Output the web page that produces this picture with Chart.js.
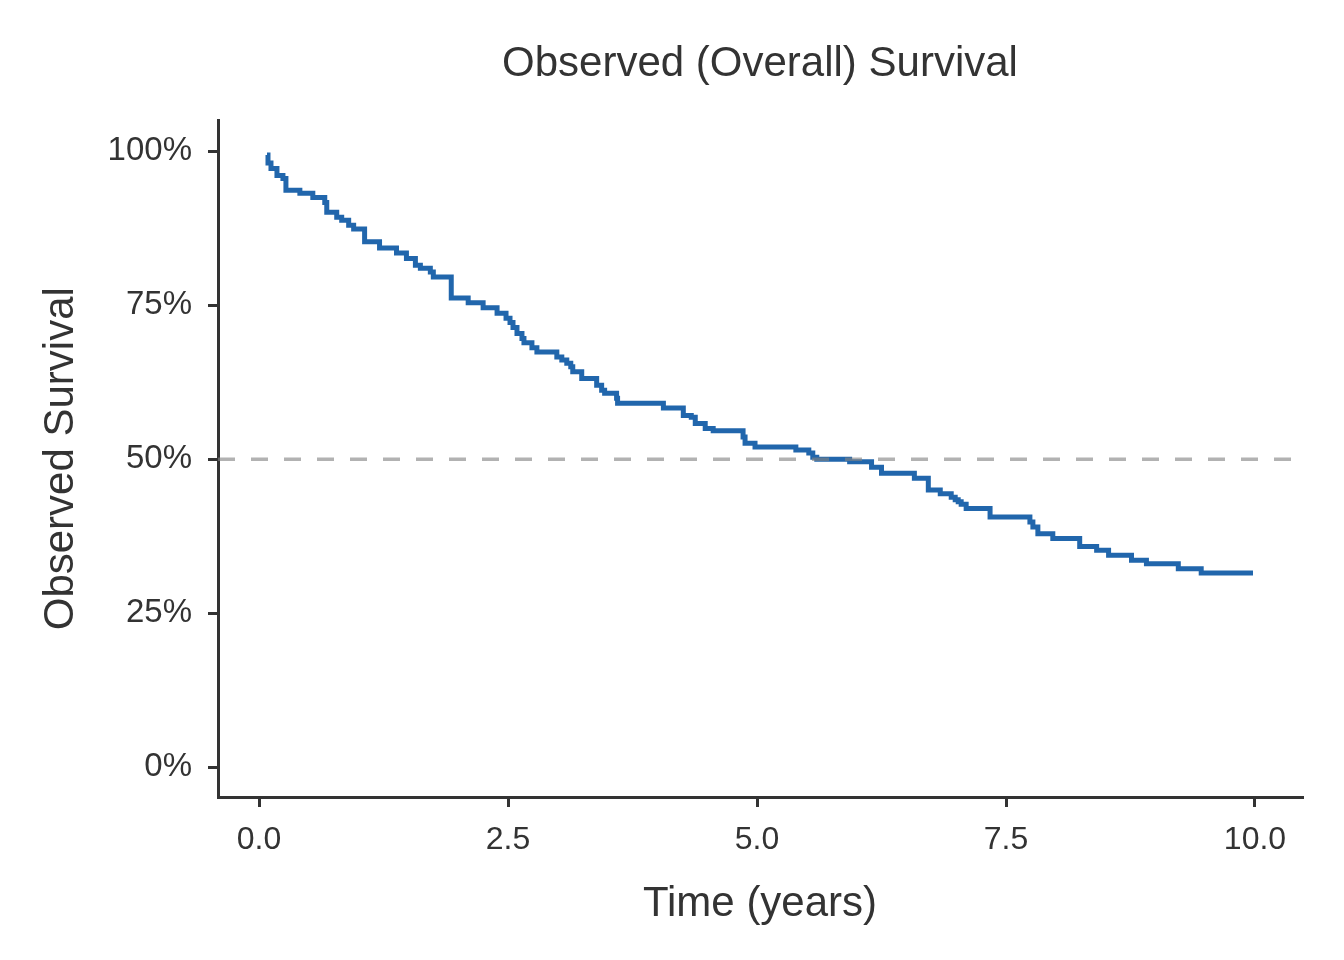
<!DOCTYPE html>
<html>
<head>
<meta charset="utf-8">
<title>Observed (Overall) Survival</title>
<script src="https://cdn.jsdelivr.net/npm/chart.js@4.4.1/dist/chart.umd.min.js"></script>
<style>
  html, body { margin: 0; padding: 0; background: #ffffff; }
  #wrap { width: 1344px; height: 960px; }
</style>
</head>
<body>
<div id="wrap"><canvas id="survivalChart" width="1344" height="960"></canvas></div>
<script>
// Kaplan-Meier estimate: time in years, survival in %
const timeYears = [
  0.08, 0.09, 0.12, 0.18, 0.24, 0.27, 0.41, 0.54, 0.66, 0.68,
  0.78, 0.83, 0.90, 0.95, 1.06, 1.21, 1.38, 1.48, 1.57, 1.62,
  1.72, 1.75, 1.93, 2.10, 2.25, 2.39, 2.48, 2.52, 2.55, 2.59,
  2.64, 2.66, 2.74, 2.79, 2.99, 3.04, 3.09, 3.13, 3.15, 3.24,
  3.39, 3.44, 3.47, 3.59, 3.60, 4.06, 4.26, 4.34, 4.38, 4.48,
  4.56, 4.86, 4.88, 4.98, 5.39, 5.52, 5.56, 5.60, 5.93, 6.15,
  6.25, 6.58, 6.72, 6.84, 6.95, 6.99, 7.02, 7.05, 7.10, 7.34,
  7.74, 7.77, 7.82, 7.97, 8.24, 8.41, 8.53, 8.76, 8.91, 9.23,
  9.46, 9.98
];
const survivalPct = [
  99.4, 98.1, 97.2, 96.1, 95.6, 93.7, 93.2, 92.5, 91.7, 90.1,
  89.3, 88.8, 88.0, 87.4, 85.3, 84.3, 83.5, 82.6, 81.5, 81.0,
  80.4, 79.6, 76.2, 75.4, 74.6, 73.7, 72.9, 72.2, 71.4, 70.4,
  69.6, 68.9, 68.1, 67.4, 66.6, 66.1, 65.6, 65.0, 64.2, 63.1,
  62.0, 61.2, 60.7, 59.9, 59.1, 58.3, 57.1, 56.8, 55.8, 55.0,
  54.6, 53.6, 52.6, 52.0, 51.5, 51.0, 50.3, 50.0, 49.6, 48.7,
  47.7, 46.9, 45.0, 44.4, 43.8, 43.4, 43.1, 42.7, 42.0, 40.6,
  39.8, 39.0, 37.9, 37.1, 35.8, 35.2, 34.4, 33.6, 33.0, 32.2,
  31.5, 31.5
];

const xTicks = [0, 2.5, 5, 7.5, 10];
const yTicks = [0, 25, 50, 75, 100];
const medianLine = 50;

document.addEventListener("DOMContentLoaded", function () {
  const canvas = document.getElementById("survivalChart");
  const ctx = canvas.getContext("2d");

  const textColor = "#333333";
  const axisColor = "#333333";
  const curveColor = "#2166ac";

  // axis limits: a bit of room past the data like the reference
  const xMin = -0.412, xMax = 10.472;
  const yMin = -4.87, yMax = 105.03;

  const kmPoints = timeYears.map((t, i) => ({ x: t, y: survivalPct[i] }));

  new Chart(ctx, {
    type: "line",
    data: {
      datasets: [
        {
          label: "50%",
          data: [{ x: xMin, y: medianLine }, { x: xMax, y: medianLine }],
          borderColor: "rgba(130,130,130,0.62)",
          borderWidth: 3.5,
          borderDash: [17, 16],
          pointRadius: 0,
          order: 0
        },
        {
          label: "Observed Survival",
          data: kmPoints,
          borderColor: curveColor,
          borderWidth: 5,
          stepped: true,
          pointRadius: 0,
          fill: false,
          order: 1
        }
      ]
    },
    options: {
      responsive: false,
      animation: false,
      devicePixelRatio: 1,
      layout: { padding: { left: 0, right: 42, top: 0, bottom: 0 } },
      plugins: {
        legend: { display: false },
        tooltip: { enabled: false },
        title: {
          display: true,
          text: "Observed (Overall) Survival",
          color: textColor,
          fullSize: false,
          font: { family: "Liberation Sans", size: 42, weight: "normal" },
          padding: { top: 39, bottom: 31 }
        }
      },
      scales: {
        x: {
          type: "linear",
          min: xMin,
          max: xMax,
          afterFit: function (scale) { scale.height = 163; },
          afterBuildTicks: function (scale) {
            scale.ticks = xTicks.map(v => ({ value: v }));
          },
          ticks: {
            color: textColor,
            padding: 14,
            maxRotation: 0,
            font: { family: "Liberation Sans", size: 32 },
            callback: function (value) { return value.toFixed(1); }
          },
          grid: {
            drawOnChartArea: false,
            drawTicks: true,
            tickLength: 10,
            lineWidth: 3,
            color: axisColor
          },
          border: { display: true, color: axisColor, width: 3 },
          title: {
            display: true,
            text: "Time (years)",
            color: textColor,
            font: { family: "Liberation Sans", size: 42 },
            padding: { top: 0, bottom: 30 }
          }
        },
        y: {
          type: "linear",
          min: yMin,
          max: yMax,
          afterFit: function (scale) { scale.width = 218; },
          afterBuildTicks: function (scale) {
            scale.ticks = yTicks.map(v => ({ value: v }));
          },
          ticks: {
            color: textColor,
            padding: 16,
            font: { family: "Liberation Sans", size: 33 },
            callback: function (value) { return value + "%"; }
          },
          grid: {
            drawOnChartArea: false,
            drawTicks: true,
            tickLength: 10,
            lineWidth: 3,
            color: axisColor
          },
          border: { display: true, color: axisColor, width: 3 },
          title: {
            display: true,
            text: "Observed Survival",
            color: textColor,
            font: { family: "Liberation Sans", size: 42 },
            padding: { top: 36, bottom: 0 }
          }
        }
      }
    }
  });
});
</script>
</body>
</html>
